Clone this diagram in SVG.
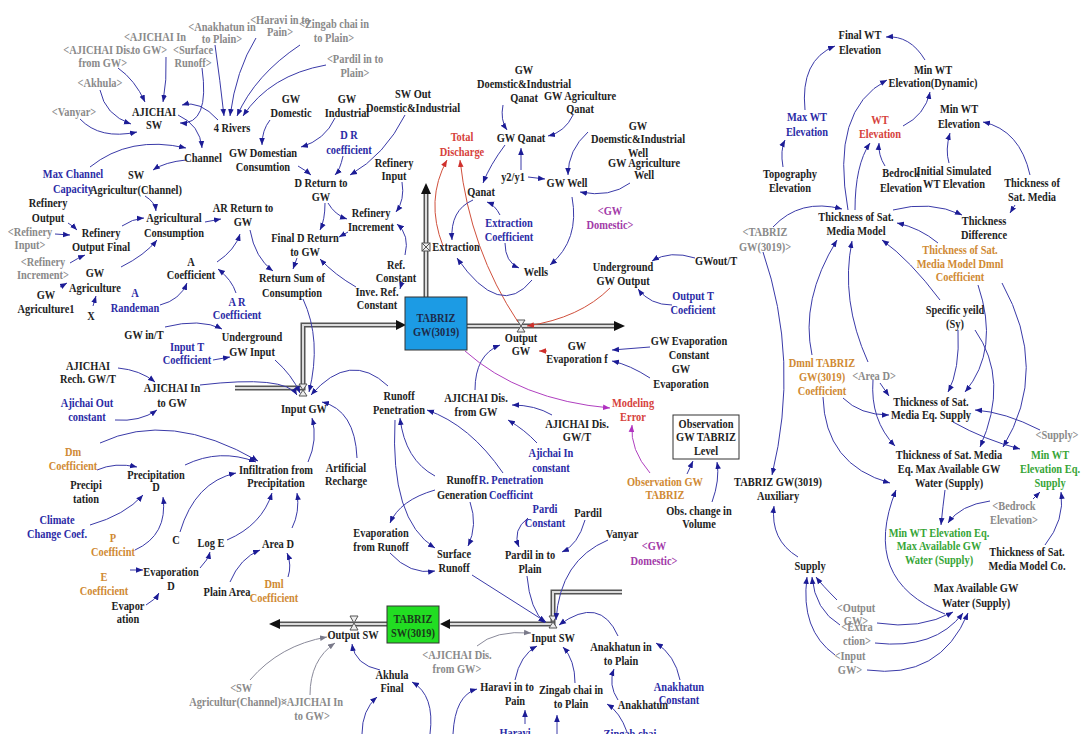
<svg xmlns="http://www.w3.org/2000/svg" width="1083" height="734" viewBox="0 0 1083 734">
<style>
text{font-family:"Liberation Serif","Times New Roman",serif;font-weight:bold;font-size:13px;text-anchor:middle;transform:scale(0.8,1)}
.k{fill:#1e1e1e}.g{fill:#8a8a8a}.b{fill:#2b2ba6}.r{fill:#d6423c}.o{fill:#d08a34}.m{fill:#a23aa8}.gr{fill:#37a537}
.c{fill:none;stroke:#3a3aa8;stroke-width:1;marker-end:url(#ab)}
.cr{fill:none;stroke:#d0503c;stroke-width:1;marker-end:url(#ar)}
.cm{fill:none;stroke:#b040c0;stroke-width:1;marker-end:url(#am)}
.cg{fill:none;stroke:#8a8a9a;stroke-width:1;marker-end:url(#ag)}
.po{fill:none;stroke:#555;stroke-width:5}
.pi{fill:none;stroke:#dcdcdc;stroke-width:2}
.v{fill:#eee;stroke:#555;stroke-width:1}
</style>
<defs>
<marker id="ab" viewBox="0 0 10 10" refX="10" refY="5" markerWidth="7" markerHeight="7" markerUnits="userSpaceOnUse" orient="auto"><path d="M0,1L10,5L0,9z" fill="#1c1c96"/></marker>
<marker id="ar" viewBox="0 0 10 10" refX="10" refY="5" markerWidth="7" markerHeight="7" markerUnits="userSpaceOnUse" orient="auto"><path d="M0,1L10,5L0,9z" fill="#d0302c"/></marker>
<marker id="am" viewBox="0 0 10 10" refX="10" refY="5" markerWidth="7" markerHeight="7" markerUnits="userSpaceOnUse" orient="auto"><path d="M0,1L10,5L0,9z" fill="#b030c0"/></marker>
<marker id="ag" viewBox="0 0 10 10" refX="10" refY="5" markerWidth="7" markerHeight="7" markerUnits="userSpaceOnUse" orient="auto"><path d="M0,1L10,5L0,9z" fill="#7a7a8a"/></marker>
</defs>
<rect width="1083" height="734" fill="#fff"/>

<g id="pipes">
<path class="po" d="M235,388H303V325H398"/><path class="pi" d="M235,388H303V325H398"/>
<path d="M396,320L406,325L396,330z" fill="#111"/>
<path class="po" d="M426,297V192"/><path class="pi" d="M426,297V192"/>
<path d="M421,194L426,183L431,194z" fill="#111"/>
<path class="po" d="M467,326H616"/><path class="pi" d="M467,326H616"/>
<path d="M614,321L625,326L614,331z" fill="#111"/>
<path class="po" d="M622,592H553V624H448"/><path class="pi" d="M622,592H553V624H448"/>
<path d="M450,619L440,624L450,629z" fill="#111"/>
<path class="po" d="M387,624H278"/><path class="pi" d="M387,624H278"/>
<path d="M280,619L269,624L280,629z" fill="#111"/>
<rect class="v" x="422" y="243" width="8" height="8"/><path d="M422,243L430,251M430,243L422,251" stroke="#555"/>
<path class="v" d="M517,320H525L517,332H525z"/>
<path class="v" d="M299,384H307L299,396H307z"/>
<path class="v" d="M350,616H358L350,630H358z"/>
<path class="v" d="M549,616H557L549,628H557z"/>
</g>

<g id="tabriz-gw"><rect x="405" y="297" width="62" height="53" fill="#1c9be4" stroke="#333"/><g transform="translate(436,322)"><text fill="#1c2a4a">TABRIZ<tspan x="0" dy="14">GW(3019)</tspan></text></g></g>
<g id="tabriz-sw"><rect x="387" y="606" width="52" height="37" fill="#22dd22" stroke="#333"/><g transform="translate(413,623)"><text fill="#1a3a1a">TABRIZ<tspan x="0" dy="14">SW(3019)</tspan></text></g></g>
<g id="obs-level"><rect x="673" y="415" width="66" height="44" fill="#fff" stroke="#333"/><g transform="translate(706,428)"><text class="k">Observation<tspan x="0" dy="13.5">GW TABRIZ</tspan><tspan x="0" dy="13.5">Level</tspan></text></g></g>

<g id="connectors">
<path class="c" d="M118,68Q135,80 145,102"/>
<path class="c" d="M166,57Q167,80 163,102"/>
<path class="c" d="M100,90Q105,115 131,124"/>
<path class="c" d="M80,119Q100,140 137,132"/>
<path class="c" d="M202,68Q210,125 180,123"/>
<path class="c" d="M218,120Q200,100 182,105"/>
<path class="c" d="M178,115Q200,125 202,148"/>
<path class="c" d="M215,45Q220,80 224,116"/>
<path class="c" d="M256,38Q236,70 230,116"/>
<path class="c" d="M300,45Q255,75 237,116"/>
<path class="c" d="M326,65Q270,75 243,116"/>
<path class="c" d="M90,167Q130,135 186,148"/>
<path class="c" d="M186,160Q165,162 153,170"/>
<path class="c" d="M145,196Q155,202 156,211"/>
<path class="c" d="M68,223Q73,226 77,230"/>
<path class="c" d="M55,234L70,235"/>
<path class="c" d="M122,226Q132,219 144,218"/>
<path class="c" d="M205,222L221,219"/>
<path class="c" d="M121,267Q145,255 157,240"/>
<path class="c" d="M70,263Q78,258 85,255"/>
<path class="c" d="M60,287L67,283"/>
<path class="c" d="M93,306L96,296"/>
<path class="c" d="M160,305Q180,300 187,283"/>
<path class="c" d="M217,262Q235,250 240,234"/>
<path class="c" d="M236,293Q232,280 218,269"/>
<path class="c" d="M250,230Q255,258 273,271"/>
<path class="c" d="M270,120Q262,130 262,145"/>
<path class="c" d="M335,118Q325,140 301,147"/>
<path class="c" d="M298,166Q305,170 311,175"/>
<path class="c" d="M343,156Q340,170 335,175"/>
<path class="c" d="M405,115Q385,155 350,175"/>
<path class="c" d="M325,203Q325,220 320,230"/>
<path class="c" d="M328,203Q335,215 347,219"/>
<path class="c" d="M402,182Q405,200 396,212"/>
<path class="c" d="M348,232L339,237"/>
<path class="c" d="M405,255Q410,235 397,224"/>
<path class="c" d="M402,282L400,289"/>
<path class="c" d="M356,287Q335,275 320,259"/>
<path class="c" d="M297,258L293,269"/>
<path class="c" d="M303,299Q322,340 309,392"/>
<path class="c" d="M275,360Q292,375 300,393"/>
<path class="c" d="M388,386Q350,350 311,395"/>
<path class="c" d="M308,462Q318,440 312,418"/>
<path class="c" d="M357,458Q355,410 322,402"/>
<path class="c" d="M200,385Q285,375 297,395"/>
<path class="c" d="M165,327Q200,318 222,329"/>
<path class="c" d="M213,360L230,357"/>
<path class="c" d="M118,368Q140,370 155,382"/>
<path class="c" d="M115,420Q140,422 157,410"/>
<path class="c" d="M100,443Q170,410 258,461"/>
<path class="c" d="M185,465Q220,448 256,462"/>
<path class="c" d="M97,470Q115,462 137,467"/>
<path class="c" d="M227,540Q262,525 272,493"/>
<path class="c" d="M90,525Q125,515 143,495"/>
<path class="c" d="M135,550Q168,535 163,497"/>
<path class="c" d="M180,532Q195,482 236,473"/>
<path class="c" d="M200,568Q208,560 210,552"/>
<path class="c" d="M130,570L143,570"/>
<path class="c" d="M146,605Q155,600 159,593"/>
<path class="c" d="M230,582Q240,558 260,550"/>
<path class="c" d="M288,577Q292,565 287,553"/>
<path class="c" d="M292,528Q300,512 297,493"/>
<path class="c" d="M435,476Q405,460 400,418"/>
<path class="c" d="M503,473Q470,425 427,410"/>
<path class="c" d="M395,420Q390,520 435,548"/>
<path class="c" d="M435,490Q400,500 390,523"/>
<path class="c" d="M470,502Q478,525 468,546"/>
<path class="c" d="M390,553Q410,575 435,571"/>
<path class="c" d="M472,575L546,622"/>
<path class="c" d="M552,415Q535,405 512,405"/>
<path class="c" d="M537,443Q525,430 508,420"/>
<path class="c" d="M475,390Q475,355 500,345"/>
<path class="cr" d="M547,351L539,351"/>
<path class="c" d="M650,347L612,350"/>
<path class="c" d="M650,378Q630,365 612,361"/>
<path class="cr" d="M610,288Q580,318 527,326"/>
<path class="c" d="M695,258Q670,250 652,261"/>
<path class="c" d="M672,305Q650,305 638,289"/>
<path class="cm" d="M465,351Q520,400 610,408"/>
<path class="cm" d="M650,473Q630,450 632,425"/>
<path class="c" d="M687,474L693,461"/>
<path class="c" d="M712,502Q720,480 717,462"/>
<path class="c" d="M763,252Q800,360 772,475"/>
<path class="c" d="M798,557Q770,540 774,506"/>
<path class="cr" d="M443,246Q425,200 447,160"/>
<path class="cr" d="M518,322Q470,250 460,160"/>
<path class="c" d="M473,200Q450,210 452,240"/>
<path class="c" d="M500,215Q495,205 487,202"/>
<path class="c" d="M505,145Q490,165 483,183"/>
<path class="c" d="M503,105Q500,120 507,130"/>
<path class="c" d="M573,115Q565,132 548,136"/>
<path class="c" d="M521,170L521,148"/>
<path class="c" d="M528,177L545,179"/>
<path class="c" d="M588,132Q568,150 568,175"/>
<path class="c" d="M630,183Q610,198 580,192"/>
<path class="c" d="M572,197Q580,240 550,265"/>
<path class="c" d="M505,243Q505,262 519,268"/>
<path class="c" d="M532,280Q500,320 457,258"/>
<path class="c" d="M805,110Q800,60 835,46"/>
<path class="c" d="M925,60Q910,35 886,37"/>
<path class="c" d="M848,210Q830,110 887,80"/>
<path class="c" d="M903,126Q925,115 930,92"/>
<path class="c" d="M855,210Q855,165 870,143"/>
<path class="c" d="M885,166Q878,155 879,143"/>
<path class="c" d="M949,163Q945,150 950,133"/>
<path class="c" d="M1030,175Q1020,130 983,122"/>
<path class="c" d="M1015,205L1010,213"/>
<path class="c" d="M893,210Q930,200 962,215"/>
<path class="c" d="M938,243Q920,228 897,223"/>
<path class="c" d="M783,167Q780,150 785,140"/>
<path class="c" d="M773,227Q800,198 842,209"/>
<path class="c" d="M812,355Q800,300 837,240"/>
<path class="c" d="M868,362Q840,300 852,241"/>
<path class="c" d="M940,300Q910,260 882,240"/>
<path class="c" d="M978,285Q1000,350 965,392"/>
<path class="c" d="M1002,283Q1050,370 1003,447"/>
<path class="c" d="M958,330Q960,370 948,392"/>
<path class="c" d="M975,330Q1010,380 980,447"/>
<path class="c" d="M880,383L889,396"/>
<path class="c" d="M843,398Q860,415 889,415"/>
<path class="c" d="M873,380Q870,420 895,446"/>
<path class="c" d="M823,397Q825,465 890,483"/>
<path class="c" d="M1040,430Q1005,412 975,410"/>
<path class="c" d="M953,422Q985,440 1020,449"/>
<path class="c" d="M1033,499L1040,492"/>
<path class="c" d="M1045,545Q1065,520 1061,492"/>
<path class="c" d="M945,490Q943,505 941,525"/>
<path class="c" d="M990,501Q960,505 948,523"/>
<path class="c" d="M945,614Q860,580 896,490"/>
<path class="c" d="M837,600Q822,585 816,577"/>
<path class="c" d="M840,625Q815,610 812,577"/>
<path class="c" d="M835,655Q800,630 807,577"/>
<path class="c" d="M877,623Q920,630 953,612"/>
<path class="c" d="M875,643Q935,650 963,613"/>
<path class="c" d="M867,670Q940,680 968,613"/>
<path class="c" d="M528,518Q512,530 519,547"/>
<path class="c" d="M585,520Q578,545 562,552"/>
<path class="c" d="M527,576Q530,610 545,623"/>
<path class="c" d="M608,540Q560,560 556,620"/>
<path class="c" d="M618,636Q600,595 559,625"/>
<path class="cg" d="M477,646Q495,630 531,633"/>
<path class="c" d="M515,680Q520,655 537,646"/>
<path class="c" d="M575,683Q575,660 563,647"/>
<path class="c" d="M618,700Q608,685 614,669"/>
<path class="c" d="M680,680Q675,655 656,643"/>
<path class="c" d="M627,732Q620,712 607,704"/>
<path class="c" d="M557,734L557,715"/>
<path class="c" d="M525,724L525,710"/>
<path class="c" d="M453,734Q455,695 477,689"/>
<path class="c" d="M380,670Q355,665 352,644"/>
<path class="c" d="M362,734Q362,710 377,697"/>
<path class="c" d="M430,734Q435,695 412,682"/>
<path class="cg" d="M310,695Q310,660 335,643"/>
<path class="cg" d="M250,680Q280,645 327,637"/>
</g>

<g id="s-haravi" transform="translate(280,24)"><text class="g">&lt;Haravi in to<tspan x="0" dy="12.5">Pain&gt;</tspan></text></g>
<g id="s-zingab" transform="translate(334,28)"><text class="g">&lt;Zingab chai in<tspan x="0" dy="14">to Plain&gt;</tspan></text></g>
<g id="s-pardil" transform="translate(355,63)"><text class="g">&lt;Pardil in to<tspan x="0" dy="14">Plain&gt;</tspan></text></g>
<g id="s-anakhatun" transform="translate(222,31)"><text class="g">&lt;Anakhatun in<tspan x="0" dy="12.5">to Plain&gt;</tspan></text></g>
<g id="s-ajichai-in" transform="translate(155,41)"><text class="g">&lt;AJICHAI In<tspan x="-7" dy="13">to GW&gt;</tspan></text></g>
<g id="s-ajichai-dis" transform="translate(98,54)"><text class="g">&lt;AJICHAI Dis.<tspan x="6" dy="13">from GW&gt;</tspan></text></g>
<g id="s-surface" transform="translate(193,54)"><text class="g">&lt;Surface<tspan x="0" dy="13">Runoff&gt;</tspan></text></g>
<g id="s-akhula" transform="translate(100,87)"><text class="g">&lt;Akhula&gt;</text></g>
<g id="s-vanyar" transform="translate(74,116)"><text class="g">&lt;Vanyar&gt;</text></g>
<g id="ajichai-sw" transform="translate(154,116)"><text class="k">AJICHAI<tspan x="0" dy="13">SW</tspan></text></g>
<g id="rivers4" transform="translate(232,132)"><text class="k">4 Rivers</text></g>
<g id="channel" transform="translate(203,162)"><text class="k">Channel</text></g>
<g id="gw-dom-cons" transform="translate(263,157)"><text class="k">GW Domestian<tspan x="0" dy="14">Consumtion</tspan></text></g>
<g id="max-channel" transform="translate(73,178)"><text class="b">Max Channel<tspan x="0" dy="15">Capacity</tspan></text></g>
<g id="sw-agri" transform="translate(136,179)"><text class="k">SW<tspan x="0" dy="15">Agricultur(Channel)</tspan></text></g>
<g id="ref-output" transform="translate(48,207)"><text class="k">Refinery<tspan x="0" dy="15">Output</tspan></text></g>
<g id="agri-cons" transform="translate(174,222)"><text class="k">Agricultural<tspan x="0" dy="15">Consumption</tspan></text></g>
<g id="ar-return" transform="translate(243,212)"><text class="k">AR Return to<tspan x="0" dy="14">GW</tspan></text></g>
<g id="s-ref-input" transform="translate(30,236)"><text class="g">&lt;Refinery<tspan x="0" dy="13.5">Input&gt;</tspan></text></g>
<g id="ref-out-final" transform="translate(101,237)"><text class="k">Refinery<tspan x="0" dy="14">Output Final</tspan></text></g>
<g id="s-ref-incr" transform="translate(43,266)"><text class="g">&lt;Refinery<tspan x="0" dy="13.5">Increment&gt;</tspan></text></g>
<g id="gw-agri" transform="translate(95,277)"><text class="k">GW<tspan x="0" dy="15">Agriculture</tspan></text></g>
<g id="gw-agri1" transform="translate(46,299)"><text class="k">GW<tspan x="0" dy="14">Agriculture1</tspan></text></g>
<g id="x" transform="translate(91,320)"><text class="k">X</text></g>
<g id="a-randeman" transform="translate(135,297)"><text class="b">A<tspan x="0" dy="15">Randeman</tspan></text></g>
<g id="a-coef" transform="translate(191,266)"><text class="k">A<tspan x="0" dy="13.5">Coefficient</tspan></text></g>
<g id="ar-coef" transform="translate(237,306)"><text class="b">A R<tspan x="0" dy="13.5">Coefficient</tspan></text></g>
<g id="return-sum" transform="translate(292,282)"><text class="k">Return Sum of<tspan x="0" dy="15">Consumption</tspan></text></g>
<g id="final-d" transform="translate(305,242)"><text class="k">Final D Return<tspan x="0" dy="14">to GW</tspan></text></g>
<g id="d-return" transform="translate(321,187)"><text class="k">D Return to<tspan x="0" dy="14">GW</tspan></text></g>
<g id="dr-coef" transform="translate(349,139)"><text class="b">D R<tspan x="0" dy="15">coefficient</tspan></text></g>
<g id="gw-domestic" transform="translate(291,103)"><text class="k">GW<tspan x="0" dy="14">Domestic</tspan></text></g>
<g id="gw-industrial" transform="translate(347,103)"><text class="k">GW<tspan x="0" dy="14">Industrial</tspan></text></g>
<g id="sw-out" transform="translate(413,98)"><text class="k">SW Out<tspan x="0" dy="14">Doemstic&amp;Industrial</tspan></text></g>
<g id="ref-input" transform="translate(394,167)"><text class="k">Refinery<tspan x="0" dy="13.5">Input</tspan></text></g>
<g id="ref-incr" transform="translate(371,217)"><text class="k">Refinery<tspan x="0" dy="14">Increment</tspan></text></g>
<g id="ref-const" transform="translate(396,269)"><text class="k">Ref.<tspan x="0" dy="13.5">Constant</tspan></text></g>
<g id="inve-ref" transform="translate(377,296)"><text class="k">Inve. Ref.<tspan x="0" dy="13.5">Constant</tspan></text></g>
<g id="total-disch" transform="translate(462,141)"><text class="r">Total<tspan x="0" dy="15">Discharge</tspan></text></g>
<g id="extraction" transform="translate(456,251)"><text class="k">Extraction</text></g>
<g id="gw-di-qanat" transform="translate(524,74)"><text class="k">GW<tspan x="0" dy="14">Doemstic&amp;Industrial</tspan><tspan x="0" dy="14.5">Qanat</tspan></text></g>
<g id="gw-agri-qanat" transform="translate(580,100)"><text class="k">GW Agriculture<tspan x="0" dy="13.5">Qanat</tspan></text></g>
<g id="gw-qanat" transform="translate(521,142)"><text class="k">GW Qanat</text></g>
<g id="y2y1" transform="translate(513,181)"><text class="k">y2/y1</text></g>
<g id="gw-well" transform="translate(567,187)"><text class="k">GW Well</text></g>
<g id="gw-di-well" transform="translate(638,130)"><text class="k">GW<tspan x="0" dy="13.5">Doemstic&amp;Industrial</tspan><tspan x="0" dy="13.5">Well</tspan></text></g>
<g id="gw-agri-well" transform="translate(644,167)"><text class="k">GW Agriculture<tspan x="0" dy="12.5">Well</tspan></text></g>
<g id="s-gwdom1" transform="translate(610,215)"><text class="m">&lt;GW<tspan x="0" dy="14">Domestic&gt;</tspan></text></g>
<g id="qanat" transform="translate(481,196)"><text class="k">Qanat</text></g>
<g id="extr-coef" transform="translate(509,227)"><text class="b">Extraction<tspan x="0" dy="14">Coefficient</tspan></text></g>
<g id="wells" transform="translate(536,276)"><text class="k">Wells</text></g>
<g id="ug-output" transform="translate(623,271)"><text class="k">Underground<tspan x="0" dy="14.5">GW Output</tspan></text></g>
<g id="gwout-t" transform="translate(716,265)"><text class="k">GWout/T</text></g>
<g id="output-t" transform="translate(693,300)"><text class="b">Output T<tspan x="0" dy="14">Coeficient</tspan></text></g>
<g id="output-gw" transform="translate(521,342)"><text class="k">Output<tspan x="0" dy="13.5">GW</tspan></text></g>
<g id="gw-evap-f" transform="translate(577,350)"><text class="k">GW<tspan x="0" dy="13.5">Evaporation f</tspan></text></g>
<g id="gw-evap-const" transform="translate(689,345)"><text class="k">GW Evaporation<tspan x="0" dy="14">Constant</tspan></text></g>
<g id="gw-evap" transform="translate(681,373)"><text class="k">GW<tspan x="0" dy="15">Evaporation</tspan></text></g>
<g id="modeling-error" transform="translate(633,407)"><text class="r">Modeling<tspan x="0" dy="14">Error</tspan></text></g>
<g id="ajichai-dis-gwt" transform="translate(577,428)"><text class="k">AJICHAI Dis.<tspan x="0" dy="13">GW/T</tspan></text></g>
<g id="ajichai-in-const" transform="translate(551,457)"><text class="b">Ajichai In<tspan x="0" dy="15">constant</tspan></text></g>
<g id="obs-gw" transform="translate(665,486)"><text class="o">Observation GW<tspan x="0" dy="13.5">TABRIZ</tspan></text></g>
<g id="obs-change" transform="translate(699,515)"><text class="k">Obs. change in<tspan x="0" dy="13.5">Volume</tspan></text></g>
<g id="tabriz-aux" transform="translate(778,486)"><text class="k">TABRIZ GW(3019)<tspan x="0" dy="14">Auxiliary</tspan></text></g>
<g id="s-tabriz" transform="translate(765,236)"><text class="g">&lt;TABRIZ<tspan x="0" dy="15">GW(3019)&gt;</tspan></text></g>

<g id="final-wt" transform="translate(860,39)"><text class="k">Final WT<tspan x="0" dy="15">Elevation</tspan></text></g>
<g id="min-wt-dyn" transform="translate(933,74)"><text class="k">Min WT<tspan x="0" dy="13.5">Elevation(Dynamic)</tspan></text></g>
<g id="max-wt" transform="translate(807,121)"><text class="b">Max WT<tspan x="0" dy="15">Elevation</tspan></text></g>
<g id="wt-elev" transform="translate(880,124)"><text class="r">WT<tspan x="0" dy="14">Elevation</tspan></text></g>
<g id="min-wt" transform="translate(959,113)"><text class="k">Min WT<tspan x="0" dy="15">Elevation</tspan></text></g>
<g id="topo" transform="translate(790,178)"><text class="k">Topography<tspan x="0" dy="14">Elevation</tspan></text></g>
<g id="bedrock" transform="translate(901,177)"><text class="k">Bedrock<tspan x="0" dy="15">Elevation</tspan></text></g>
<g id="init-sim" transform="translate(954,175)"><text class="k">Initial Simulated<tspan x="0" dy="13.5">WT Elevation</tspan></text></g>
<g id="thick-sat" transform="translate(1032,187)"><text class="k">Thickness of<tspan x="0" dy="14">Sat. Media</tspan></text></g>
<g id="tsmm" transform="translate(856,221)"><text class="k">Thickness of Sat.<tspan x="0" dy="14">Media Model</tspan></text></g>
<g id="thick-diff" transform="translate(984,225)"><text class="k">Thickness<tspan x="0" dy="14">Difference</tspan></text></g>
<g id="tsmm-dmnl" transform="translate(960,254)"><text class="o">Thickness of Sat.<tspan x="0" dy="14">Media Model Dmnl</tspan><tspan x="0" dy="13.5">Coefficient</tspan></text></g>
<g id="sy" transform="translate(955,314)"><text class="k">Specific yeild<tspan x="0" dy="14">(Sy)</tspan></text></g>
<g id="dmnl-tabriz" transform="translate(822,367)"><text class="o">Dmnl TABRIZ<tspan x="0" dy="14">GW(3019)</tspan><tspan x="0" dy="14">Coefficient</tspan></text></g>
<g id="s-aread" transform="translate(874,380)"><text class="g">&lt;Area D&gt;</text></g>
<g id="tsm-eq-supply" transform="translate(931,406)"><text class="k">Thickness of Sat.<tspan x="0" dy="13.5">Media Eq. Supply</tspan></text></g>
<g id="s-supply" transform="translate(1057,439)"><text class="g">&lt;Supply&gt;</text></g>
<g id="tsm-eq-max" transform="translate(949,459)"><text class="k">Thickness of Sat. Media<tspan x="0" dy="14">Eq. Max Available GW</tspan><tspan x="0" dy="14">Water (Supply)</tspan></text></g>
<g id="min-wt-eq-supply" transform="translate(1050,459)"><text class="gr">Min WT<tspan x="0" dy="14">Elevation Eq.</tspan><tspan x="0" dy="14">Supply</tspan></text></g>
<g id="s-bedrock" transform="translate(1014,510)"><text class="g">&lt;Bedrock<tspan x="0" dy="14">Elevation&gt;</tspan></text></g>
<g id="min-wt-eq-max" transform="translate(939,537)"><text class="gr">Min WT Elevation Eq.<tspan x="0" dy="13.5">Max Available GW</tspan><tspan x="0" dy="14">Water (Supply)</tspan></text></g>
<g id="tsmm-co" transform="translate(1027,556)"><text class="k">Thickness of Sat.<tspan x="0" dy="14">Media Model Co.</tspan></text></g>
<g id="supply" transform="translate(810,570)"><text class="k">Supply</text></g>
<g id="max-avail" transform="translate(976,592)"><text class="k">Max Available GW<tspan x="0" dy="15">Water (Supply)</tspan></text></g>
<g id="s-output-gw" transform="translate(856,612)"><text class="g">&lt;Output<tspan x="0" dy="13">GW&gt;</tspan></text></g>
<g id="s-extraction" transform="translate(857,631)"><text class="g">&lt;Extra<tspan x="0" dy="14">ction&gt;</tspan></text></g>
<g id="s-input-gw" transform="translate(850,660)"><text class="g">&lt;Input<tspan x="0" dy="14">GW&gt;</tspan></text></g>

<g id="input-gw" transform="translate(304,413)"><text class="k">Input GW</text></g>
<g id="gw-in-t" transform="translate(144,339)"><text class="k">GW in/T</text></g>
<g id="ug-input" transform="translate(252,341)"><text class="k">Underground<tspan x="0" dy="15">GW Input</tspan></text></g>
<g id="input-t" transform="translate(187,351)"><text class="b">Input T<tspan x="0" dy="13.5">Coefficient</tspan></text></g>
<g id="ajichai-rech" transform="translate(88,370)"><text class="k">AJICHAI<tspan x="0" dy="13.5">Rech. GW/T</tspan></text></g>
<g id="ajichai-in-gw" transform="translate(172,392)"><text class="k">AJICHAI In<tspan x="0" dy="15">to GW</tspan></text></g>
<g id="ajichai-out-const" transform="translate(87,407)"><text class="b">Ajichai Out<tspan x="0" dy="14">constant</tspan></text></g>
<g id="dm-coef" transform="translate(73,456)"><text class="o">Dm<tspan x="0" dy="14">Coefficient</tspan></text></g>
<g id="precip-d" transform="translate(156,479)"><text class="k">Precipitation<tspan x="0" dy="12.5">D</tspan></text></g>
<g id="precipi" transform="translate(86,489)"><text class="k">Precipi<tspan x="0" dy="14">tation</tspan></text></g>
<g id="infiltration" transform="translate(276,474)"><text class="k">Infiltration from<tspan x="0" dy="13.5">Precipitation</tspan></text></g>
<g id="artificial" transform="translate(346,472)"><text class="k">Artificial<tspan x="0" dy="13.5">Recharge</tspan></text></g>
<g id="runoff-pen" transform="translate(399,400)"><text class="k">Runoff<tspan x="0" dy="14">Penetration</tspan></text></g>
<g id="ajichai-dis-gw" transform="translate(476,402)"><text class="k">AJICHAI Dis.<tspan x="0" dy="14">from GW</tspan></text></g>
<g id="climate" transform="translate(57,524)"><text class="b">Climate<tspan x="0" dy="14">Change Coef.</tspan></text></g>
<g id="p-coef" transform="translate(113,542)"><text class="o">P<tspan x="0" dy="14">Coefficint</tspan></text></g>
<g id="c" transform="translate(176,544)"><text class="k">C</text></g>
<g id="log-e" transform="translate(211,547)"><text class="k">Log E</text></g>
<g id="area-d" transform="translate(278,548)"><text class="k">Area D</text></g>
<g id="e-coef" transform="translate(104,581)"><text class="o">E<tspan x="0" dy="14">Coefficient</tspan></text></g>
<g id="evap-d" transform="translate(171,576)"><text class="k">Evaporation<tspan x="0" dy="14">D</tspan></text></g>
<g id="evapor" transform="translate(128,610)"><text class="k">Evapor<tspan x="0" dy="13.5">ation</tspan></text></g>
<g id="plain-area" transform="translate(227,596)"><text class="k">Plain Area</text></g>
<g id="dml-coef" transform="translate(274,588)"><text class="o">Dml<tspan x="0" dy="14">Coefficient</tspan></text></g>
<g id="runoff-gen" transform="translate(462,484)"><text class="k">Runoff<tspan x="0" dy="15">Generation</tspan></text></g>
<g id="r-pen-coef" transform="translate(511,484)"><text class="b">R. Penetration<tspan x="0" dy="15">Coefficint</tspan></text></g>
<g id="evap-runoff" transform="translate(381,537)"><text class="k">Evaporation<tspan x="0" dy="14">from Runoff</tspan></text></g>
<g id="surface-runoff" transform="translate(454,558)"><text class="k">Surface<tspan x="0" dy="14">Runoff</tspan></text></g>
<g id="pardi-const" transform="translate(545,513)"><text class="b">Pardi<tspan x="0" dy="14">Constant</tspan></text></g>
<g id="pardil" transform="translate(588,517)"><text class="k">Pardil</text></g>
<g id="vanyar" transform="translate(622,538)"><text class="k">Vanyar</text></g>
<g id="s-gwdom2" transform="translate(654,550)"><text class="m">&lt;GW<tspan x="0" dy="15">Domestic&gt;</tspan></text></g>
<g id="pardil-in" transform="translate(530,559)"><text class="k">Pardil in to<tspan x="0" dy="14">Plain</tspan></text></g>
<g id="output-sw" transform="translate(353,639)"><text class="k">Output SW</text></g>
<g id="input-sw" transform="translate(553,642)"><text class="k">Input SW</text></g>
<g id="s-ajichai-dis2" transform="translate(457,659)"><text class="g">&lt;AJICHAI Dis.<tspan x="0" dy="14">from GW&gt;</tspan></text></g>
<g id="akhula-final" transform="translate(392,679)"><text class="k">Akhula<tspan x="0" dy="13.5">Final</tspan></text></g>
<g id="haravi-in" transform="translate(507,691)"><text class="k">Haravi in to<tspan x="10" dy="14">Pain</tspan></text></g>
<g id="zingab-in" transform="translate(571,694)"><text class="k">Zingab chai in<tspan x="0" dy="14">to Plain</tspan></text></g>
<g id="anakhatun-in" transform="translate(621,651)"><text class="k">Anakhatun in<tspan x="0" dy="14">to Plain</tspan></text></g>
<g id="anakhatun" transform="translate(643,709)"><text class="k">Anakhatun</text></g>
<g id="anakhatun-const" transform="translate(679,691)"><text class="b">Anakhatun<tspan x="0" dy="13.5">Constant</tspan></text></g>
<g id="s-sw-agri" transform="translate(238,692)"><text class="g"><tspan x="4">&lt;SW</tspan><tspan x="0" dy="14">Agricultur(Channel)&gt;</tspan></text></g>
<g id="s-ajichai-in2" transform="translate(312,706)"><text class="g">&lt;AJICHAI In<tspan x="0" dy="14">to GW&gt;</tspan></text></g>
<g id="haravi" transform="translate(515,737)"><text class="b">Haravi</text></g>
<g id="zingab" transform="translate(630,738)"><text class="b">Zingab chai</text></g>
</svg>
